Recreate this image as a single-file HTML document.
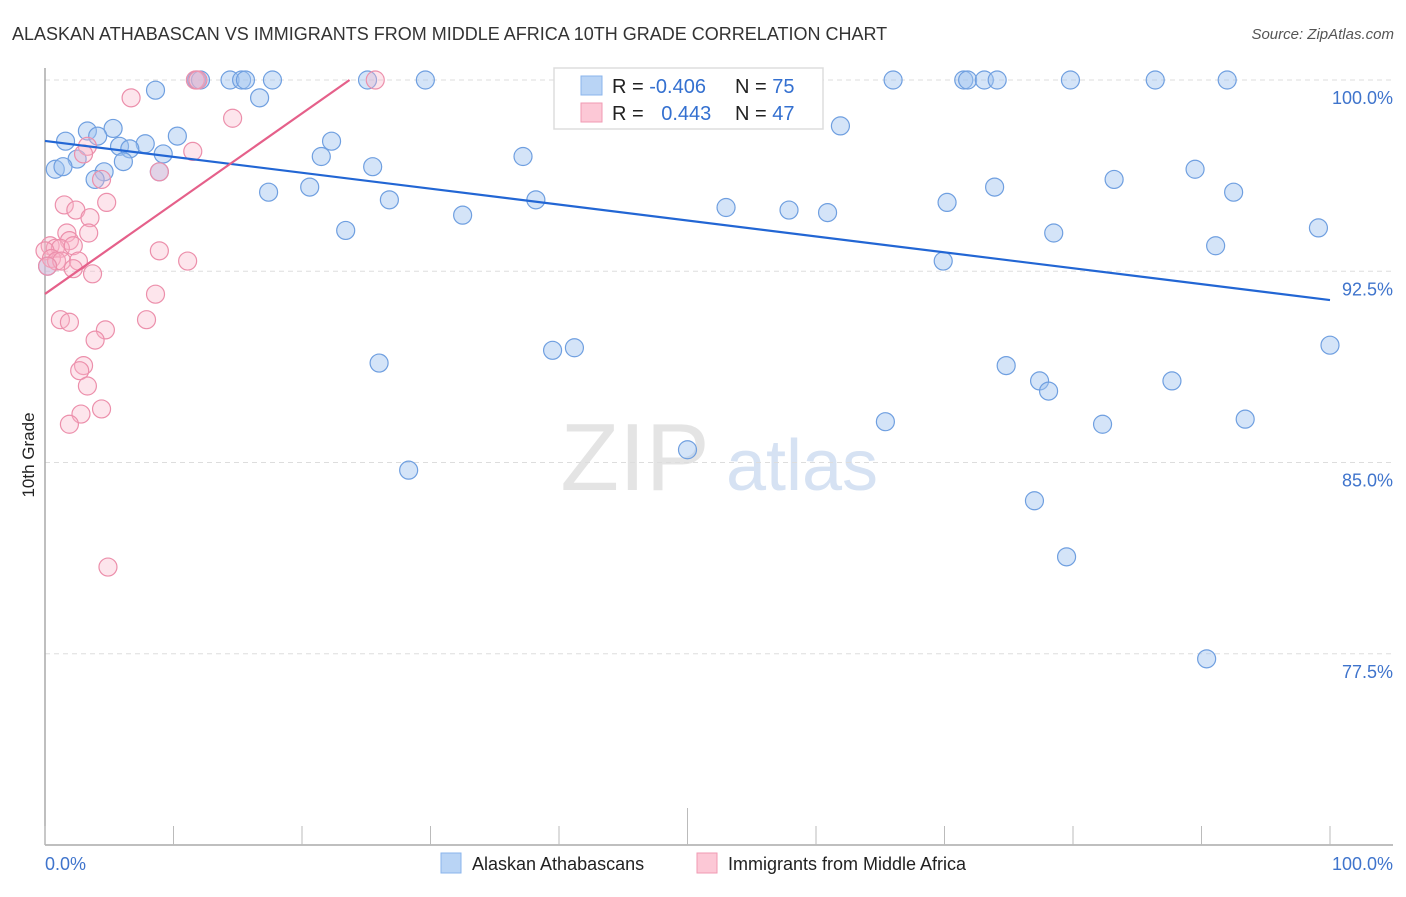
<!DOCTYPE html>
<html><head><meta charset="utf-8"><style>
body{margin:0;background:#fff;font-family:"Liberation Sans",sans-serif;}
svg text{font-family:"Liberation Sans",sans-serif;}
</style></head><body>
<svg id="chart" width="1406" height="892" xmlns="http://www.w3.org/2000/svg">
<text x="12" y="40" font-size="18" fill="#333">ALASKAN ATHABASCAN VS IMMIGRANTS FROM MIDDLE AFRICA 10TH GRADE CORRELATION CHART</text>
<text x="1394" y="39" font-size="15" fill="#555" text-anchor="end" font-style="italic">Source: ZipAtlas.com</text>
<text transform="translate(34,455) rotate(-90)" font-size="17" fill="#222" text-anchor="middle">10th Grade</text>
<g>
<text x="635" y="490" font-size="96" fill="#e4e4e4" text-anchor="middle" font-family="Liberation Serif">ZIP</text>
<text x="802" y="490" font-size="72" fill="#d6e2f3" text-anchor="middle">atlas</text>
</g>
<g id="grid"></g>
<g id="axes"></g>
<g id="pts"></g>
<g id="trend"></g>
<g>
<rect x="554" y="68" width="269" height="61" fill="#fff" stroke="#ddd" stroke-width="1.5"/>
<rect x="581" y="76" width="21" height="19" fill="#b9d4f5" stroke="#8ab4ec"/>
<rect x="581" y="103" width="21" height="19" fill="#fcc8d6" stroke="#f09ab3"/>
<text x="612" y="93" font-size="20" fill="#222">R = <tspan fill="#3470d0">-0.406</tspan></text>
<text x="735" y="93" font-size="20" fill="#222">N = <tspan fill="#3470d0">75</tspan></text>
<text x="612" y="120" font-size="20" fill="#222">R = <tspan fill="#3470d0" dx="12">0.443</tspan></text>
<text x="735" y="120" font-size="20" fill="#222">N = <tspan fill="#3470d0">47</tspan></text>
</g>
<text x="45" y="870" font-size="18" fill="#3f74cc">0.0%</text>
<text x="1393" y="870" font-size="18" fill="#3f74cc" text-anchor="end">100.0%</text>
<g>
<rect x="441" y="853" width="20" height="20" fill="#b9d4f5" stroke="#8ab4ec"/>
<text x="472" y="870" font-size="18" fill="#222">Alaskan Athabascans</text>
<rect x="697" y="853" width="20" height="20" fill="#fcc8d6" stroke="#f09ab3"/>
<text x="728" y="870" font-size="18" fill="#222">Immigrants from Middle Africa</text>
</g>
</svg>
<script>
const yTicks=[100,92.5,85,77.5];
const yTickLabels=["100.0%","92.5%","85.0%","77.5%"];
const blueX=[8.6,11.8,12.1,14.4,15.3,15.6,17.7,25.1,29.6,66.0,71.5,71.8,73.1,74.1,79.8,86.4,92.0,16.7,3.3,5.3,1.6,4.1,7.8,5.8,6.6,10.3,9.2,2.5,0.8,1.4,6.1,4.6,3.9,8.9,22.3,21.5,25.5,37.2,61.9,17.4,20.6,26.8,38.2,32.5,23.4,53.0,57.9,60.9,70.2,73.9,83.2,89.5,92.5,78.5,69.9,91.1,99.1,100,26.0,39.5,41.2,74.8,77.4,78.1,87.7,65.4,82.3,93.4,50.0,28.3,77.0,79.5,90.4,0.2];
const blueY=[99.6,100,100,100,100,100,100,100,100,100,100,100,100,100,100,100,100,99.3,98.0,98.1,97.6,97.8,97.5,97.4,97.3,97.8,97.1,96.9,96.5,96.6,96.8,96.4,96.1,96.4,97.6,97.0,96.6,97.0,98.2,95.6,95.8,95.3,95.3,94.7,94.1,95.0,94.9,94.8,95.2,95.8,96.1,96.5,95.6,94.0,92.9,93.5,94.2,89.6,88.9,89.4,89.5,88.8,88.2,87.8,88.2,86.6,86.5,86.7,85.5,84.7,83.5,81.3,77.3,92.7];
const pinkX=[11.7,11.9,25.7,6.7,14.6,11.5,3.3,3.0,4.4,8.9,4.8,1.5,2.4,3.5,1.7,3.4,1.9,0.4,0.8,1.2,2.2,0.0,0.5,0.9,1.3,0.2,2.6,2.2,3.7,8.9,11.1,8.6,1.2,1.9,4.7,7.9,3.9,3.0,2.7,3.3,2.8,4.4,1.9,4.9];
const pinkY=[100,100,100,99.3,98.5,97.2,97.4,97.1,96.1,96.4,95.2,95.1,94.9,94.6,94.0,94.0,93.7,93.5,93.4,93.4,93.5,93.3,93.0,92.9,92.9,92.7,92.9,92.6,92.4,93.3,92.9,91.6,90.6,90.5,90.2,90.6,89.8,88.8,88.6,88.0,86.9,87.1,86.5,80.9];
const blueTrend=[[0,97.61],[100,91.37]];
const pinkTrend=[[0,91.61],[23.7,100]];
const NS="http://www.w3.org/2000/svg";
function sx(v){return 45+v*12.85;}
function sy(v){return 80+(100-v)*25.5;}
function mk(tag,attrs,parent){const e=document.createElementNS(NS,tag);for(const k in attrs)e.setAttribute(k,attrs[k]);parent.appendChild(e);return e;}
const grid=document.getElementById('grid');
yTicks.forEach((t,i)=>{
 const l=mk('line',{x1:45,x2:1393,y1:sy(t),y2:sy(t),stroke:'#ddd','stroke-dasharray':'5,4'},grid);
 
 
 const tx=mk('text',{x:1393,y:sy(t)+24,'font-size':18,fill:'#3f74cc','text-anchor':'end'},grid);
 tx.textContent=yTickLabels[i];
 
 
});
const axes=document.getElementById('axes');
const ya=mk('line',{x1:45,x2:45,y1:68,y2:845,stroke:'#aaa','stroke-width':1.5},axes);


const xa=mk('line',{x1:45,x2:1393,y1:845,y2:845,stroke:'#aaa','stroke-width':1.5},axes);


for(let i=0;i<=10;i++){
 const tk=mk('line',{x1:sx(i*10),x2:sx(i*10),y1:i==5?808:826,y2:845,stroke:'#bbb'},axes);
 
 
}
const pts=document.getElementById('pts');
blueX.forEach((x,i)=>{
 const c=mk('circle',{cx:sx(x),cy:sy(blueY[i]),r:9,fill:'rgba(160,196,240,0.45)',stroke:'#6f9fe0','stroke-width':1.2},pts);
 
 
});
pinkX.forEach((x,i)=>{
 const c=mk('circle',{cx:sx(x),cy:sy(pinkY[i]),r:9,fill:'rgba(250,180,200,0.35)',stroke:'#ec8fab','stroke-width':1.2},pts);
 
 
});
const tr=document.getElementById('trend');
const bl=mk('line',{x1:sx(blueTrend[0][0]),y1:sy(blueTrend[0][1]),x2:sx(blueTrend[1][0]),y2:sy(blueTrend[1][1]),stroke:'#2266d4','stroke-width':2.2},tr);


const pl=mk('line',{x1:sx(pinkTrend[0][0]),y1:sy(pinkTrend[0][1]),x2:sx(pinkTrend[1][0]),y2:sy(pinkTrend[1][1]),stroke:'#e5608a','stroke-width':2.2},tr);


</script>
</body></html>
